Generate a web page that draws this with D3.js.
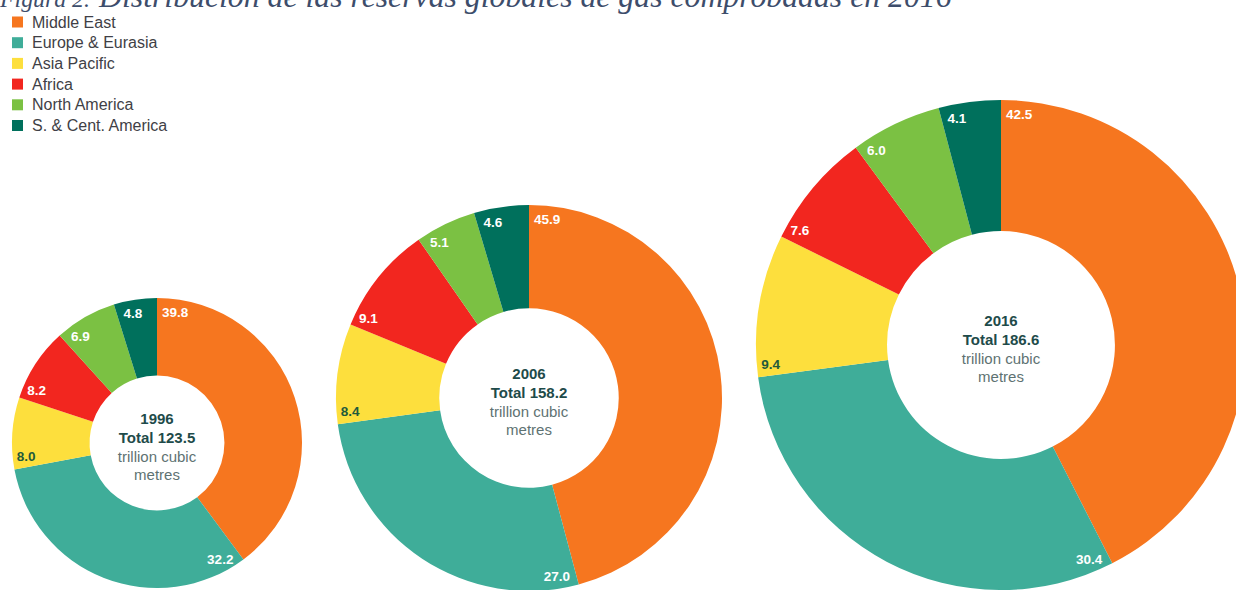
<!DOCTYPE html>
<html>
<head>
<meta charset="utf-8">
<script src="https://cdn.jsdelivr.net/npm/d3@7"></script>
<style>
  html, body { margin: 0; padding: 0; background: #fff; }
  svg { display: block; }
</style>
</head>
<body>
<div id="viz"></div>
<script>
// chart data
var regions = ['Middle East', 'Europe & Eurasia', 'Asia Pacific', 'Africa', 'North America', 'S. & Cent. America'];
var years = ['1996', '2006', '2016'];
var totals = [123.5, 158.2, 186.6];
var share1996 = [39.8, 32.2, 8.0, 8.2, 6.9, 4.8];
var share2006 = [45.9, 27.0, 8.4, 9.1, 5.1, 4.6];
var share2016 = [42.5, 30.4, 9.4, 7.6, 6.0, 4.1];
var shares = [share1996, share2006, share2016];

var titleSmall = 'Figura 2.';
var titleMain = 'Distribución de las reservas globales de gas comprobadas en 2016';
var unitLines = ['trillion cubic', 'metres'];

var colors = d3.scaleOrdinal()
  .domain(regions)
  .range(['#f6761f', '#3fad99', '#fddf3d', '#f2261f', '#7bc143', '#00705c']);

// layout
var chart = ({width: 1236, height: 590});
var centerX = [157, 529, 1001];
var centerY = [443, 398, 345];
var radius = d3.scaleLinear().domain(totals).range([145, 193, 245]);
var holeRatio = 0.465;

var svg = d3.select('#viz')
  .append('svg')
  .attr('width', chart.width)
  .attr('height', chart.height);

// title (top is clipped off in the original)
function fitText(sel, x0, x1, base) {
  var w = sel.node().getComputedTextLength();
  sel.attr('x', x0).attr('font-size', base * (x1 - x0) / w);
}

var tSmall = svg.append('text')
  .attr('y', 7)
  .attr('font-family', 'Liberation Serif, serif')
  .attr('font-style', 'italic')
  .attr('font-size', 20)
  .attr('fill', '#3d4d6b')
  .text(titleSmall);
fitText(tSmall, 0, 90, 20);

var tMain = svg.append('text')
  .attr('y', 7)
  .attr('font-family', 'Liberation Serif, serif')
  .attr('font-style', 'italic')
  .attr('font-size', 30)
  .attr('fill', '#3d4d6b')
  .text(titleMain);
fitText(tMain, 99, 952, 30);

// legend
var legend = svg.append('g').attr('id', 'legend');
var legendRow = legend.selectAll('g')
  .data(regions)
  .enter()
  .append('g')
  .attr('transform', (d, i) => 'translate(12,' + (22 + i * 20.7) + ')');

legendRow.append('rect')
  .attr('x', 0).attr('y', -5.5)
  .attr('width', 11).attr('height', 11)
  .attr('fill', (d) => colors(d));

legendRow.append('text')
  .attr('x', 20).attr('y', 5.5)
  .attr('font-family', 'Liberation Sans, Arial, sans-serif')
  .attr('font-size', 16)
  .attr('fill', '#3f3f46')
  .text((d) => d);

var pie = d3.pie().sort(null).value((d) => d);

years.forEach(function(year, k) {
  var R = radius(totals[k]);
  var arc = d3.arc().innerRadius(R * holeRatio).outerRadius(R);
  var g = svg.append('g')
    .attr('class', 'donut')
    .attr('transform', 'translate(' + centerX[k] + ',' + centerY[k] + ')');

  var arcs = pie(shares[k]);

  g.selectAll('path')
    .data(arcs)
    .enter()
    .append('path')
    .attr('d', arc)
    .attr('fill', (d, i) => colors(regions[i]));

  // value labels sit just inside the start edge of each slice
  var rL = R - 14;
  g.selectAll('text.val')
    .data(arcs)
    .enter()
    .append('text')
    .attr('class', 'val')
    .attr('font-family', 'Liberation Sans, Arial, sans-serif')
    .attr('font-weight', 'bold')
    .attr('font-size', 13.5)
    .attr('text-anchor', 'middle')
    .attr('fill', (d, i) => regions[i] === 'Asia Pacific' ? '#1f5a3c' : '#ffffff')
    .text((d) => d.data.toFixed(1))
    .each(function(d) {
      var w = this.getComputedTextLength();
      var h = 9.7;
      var a = d.startAngle;
      var ux = Math.sin(a), uy = -Math.cos(a);
      var nx = Math.cos(a), ny = Math.sin(a);
      var off = w / 2 * Math.abs(nx) + h / 2 * Math.abs(ny) + 5;
      d3.select(this)
        .attr('x', rL * ux + off * nx)
        .attr('y', rL * uy + off * ny + h / 2);
    });

  // centre text
  var centre = g.append('g')
    .attr('font-family', 'Liberation Sans, Arial, sans-serif')
    .attr('font-size', 15)
    .attr('text-anchor', 'middle');
  centre.append('text').attr('y', -19).attr('font-weight', 'bold').attr('fill', '#1e4b4a').text(year);
  centre.append('text').attr('y', 0).attr('font-weight', 'bold').attr('fill', '#1e4b4a').text('Total ' + totals[k].toFixed(1));
  centre.selectAll('text.unit')
    .data(unitLines)
    .enter()
    .append('text')
    .attr('class', 'unit')
    .attr('y', (d, i) => 18.5 + i * 18.7)
    .attr('fill', '#5e7272')
    .text((d) => d);
});
</script>
</body>
</html>
